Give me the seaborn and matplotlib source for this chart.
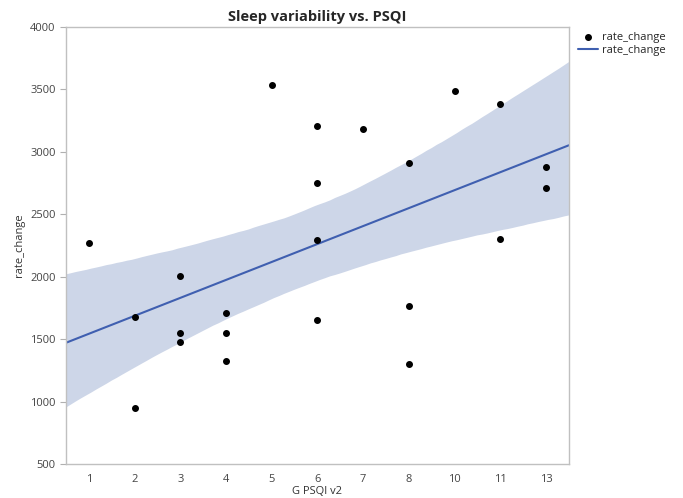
import matplotlib
matplotlib.use("Agg")
import matplotlib.pyplot as plt
import numpy as np
import seaborn as sns
from matplotlib.lines import Line2D

# G PSQI v2 categories (ordinal axis, equally spaced)
categories = [1, 2, 3, 4, 5, 6, 7, 8, 10, 11, 13]

# one entry per subject
psqi = [1, 2, 2, 3, 3, 3, 4, 4, 4, 5, 6, 6, 6, 6, 7, 8, 8, 8, 10, 11, 11, 13, 13]
rate_change = [2270, 1677, 949, 2006, 1549, 1477, 1549, 1709, 1325, 3538,
               3207, 2751, 2294, 1653, 3183, 2908, 1766, 1301, 3490, 3383,
               2305, 2881, 2708]

pos = [categories.index(v) for v in psqi]

sns.set_style("white")
plt.rcParams["font.family"] = ["Open Sans", "DejaVu Sans"]

fig = plt.figure(figsize=(6.83, 4.98), dpi=100)
ax = fig.add_axes([0.0966, 0.0683, 0.7364, 0.8775])
ax.set_xlim(-0.5, 10.5)
ax.set_ylim(500, 4000)

line_color = "#3f5fb0"
sns.regplot(x=pos, y=rate_change, ax=ax, ci=97, n_boot=10000, truncate=False,
            seed=0, color=line_color,
            scatter_kws={"color": "black", "s": 16, "alpha": 1, "zorder": 3},
            line_kws={"color": line_color, "lw": 1.5})
# lighten the confidence band
for coll in ax.collections[1:]:
    coll.set_facecolor("#cdd6e8")
    coll.set_alpha(1)
    coll.set_edgecolor("none")

ax.set_xticks(range(len(categories)))
ax.set_xticklabels([str(c) for c in categories])
ax.set_yticks(range(500, 4001, 500))
ax.tick_params(axis="x", length=0, labelsize=8, colors="#444444", pad=7)
ax.tick_params(axis="y", length=4, labelsize=8, colors="#444444", width=0.8,
               left=True, direction="out")
ax.tick_params(axis="y", color="#b0b0b0")
for s in ax.spines.values():
    s.set_color("#c0c0c0")
    s.set_linewidth(1)

ax.set_xlabel("G PSQI v2", fontsize=8, color="#333333", labelpad=1)
ax.set_ylabel("rate_change", fontsize=8, color="#333333")
ax.set_title("Sleep variability vs. PSQI", fontsize=10.5, fontweight="bold", pad=4)

handles = [Line2D([], [], marker="o", ls="none", color="black", markersize=4),
           Line2D([], [], color=line_color, lw=1.5)]
fig.legend(handles, ["rate_change", "rate_change"], loc="upper left",
           bbox_to_anchor=(0.832, 0.955), frameon=False, fontsize=8,
           handlelength=1.8, handletextpad=0.3, labelspacing=0.1)

fig.savefig("out.png", dpi=100)
